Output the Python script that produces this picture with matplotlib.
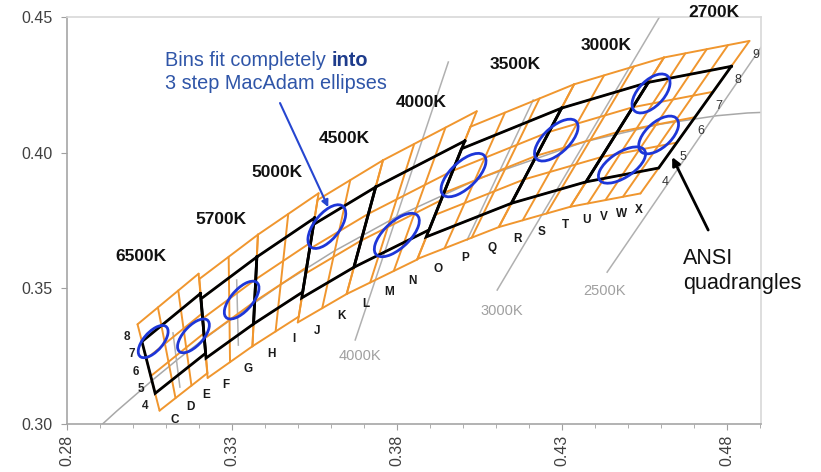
import numpy as np
import matplotlib
matplotlib.use('Agg')
import matplotlib.pyplot as plt
from matplotlib.patches import Ellipse
from matplotlib.ticker import MultipleLocator, FormatStrFormatter

plt.rcParams['font.family'] = ['Liberation Sans', 'DejaVu Sans']

# ---------------- data ----------------
# ANSI C78.377 quadrangles, corners ordered TR, TL, BL, BR
cct_names = ['6500K', '5700K', '5000K', '4500K', '4000K', '3500K', '3000K', '2700K']
quad_x = [
    [0.3205, 0.3028, 0.3068, 0.3221],
    [0.3376, 0.3207, 0.3222, 0.3366],
    [0.3551, 0.3376, 0.3366, 0.3515],
    [0.3736, 0.3548, 0.3512, 0.3670],
    [0.4006, 0.3736, 0.3670, 0.3898],
    [0.4299, 0.3996, 0.3889, 0.4147],
    [0.4562, 0.4299, 0.4147, 0.4373],
    [0.4813, 0.4562, 0.4373, 0.4593],
]
quad_y = [
    [0.3481, 0.3304, 0.3113, 0.3261],
    [0.3616, 0.3462, 0.3243, 0.3369],
    [0.3760, 0.3616, 0.3369, 0.3487],
    [0.3874, 0.3736, 0.3465, 0.3578],
    [0.4044, 0.3874, 0.3578, 0.3716],
    [0.4165, 0.4015, 0.3690, 0.3814],
    [0.4260, 0.4165, 0.3814, 0.3893],
    [0.4319, 0.4260, 0.3893, 0.3944],
]
# bin structure inside each quadrangle (plus one extra row above and below)
bin_cols = [3, 2, 2, 2, 3, 3, 3, 4]
bin_rows_per_quad = [3, 3, 3, 3, 3, 4, 4, 4]
bin_letters = list('CDEFGHIJKLMNOPQRSTUVWX')
left_row_labels = ['4', '5', '6', '7', '8']
right_row_labels = ['4', '5', '6', '7', '8', '9']

# Planckian locus (CIE 1931 x, y)
locus_T = [10000, 9000, 8000, 7000, 6500, 6000, 5500, 5000, 4500, 4000, 3500, 3000, 2700, 2500, 2400, 2300]
locus_x = [0.2807, 0.2869, 0.2952, 0.3064, 0.3135, 0.3221, 0.3325, 0.3451, 0.3608, 0.3805,
           0.4053, 0.4369, 0.4599, 0.4770, 0.4862, 0.4961]
locus_y = [0.2884, 0.2956, 0.3048, 0.3166, 0.3237, 0.3318, 0.3409, 0.3516, 0.3636, 0.3768,
           0.3907, 0.4041, 0.4106, 0.4137, 0.4147, 0.4152]

# isotherm lines (start x, start y, end x, end y) and labels
iso_labels = ['4000K', '3000K', '2500K', '', '', '']
iso_x0 = [0.3674, 0.4104, 0.4437, 0.4013, 0.3143, 0.3320]
iso_y0 = [0.3310, 0.3494, 0.3560, 0.3679, 0.3136, 0.3291]
iso_x1 = [0.3956, 0.4595, 0.4910, 0.4213, 0.3122, 0.3315]
iso_y1 = [0.4335, 0.4500, 0.4401, 0.4195, 0.3336, 0.3531]

# 3-step MacAdam ellipses: centre, semi-axes, angle (deg)
ell_x = [0.3062, 0.3184, 0.3330, 0.3588, 0.3800, 0.4002, 0.4283, 0.4570, 0.4593, 0.4482]
ell_y = [0.3304, 0.3325, 0.3457, 0.3728, 0.3697, 0.3918, 0.4047, 0.4219, 0.4066, 0.3955]
ell_a = [0.0068, 0.0072, 0.0080, 0.0090, 0.0096, 0.0096, 0.0092, 0.0082, 0.0082, 0.0088]
ell_b = [0.0031, 0.0032, 0.0035, 0.0041, 0.0043, 0.0043, 0.0043, 0.0042, 0.0042, 0.0043]
ell_ang = [57, 56, 57, 60, 52, 52, 52, 56, 52, 42]

# ---------------- figure ----------------
ORANGE = '#F0962E'
fig = plt.figure(figsize=(8.21, 4.72), dpi=100)
ax = fig.add_axes([0.0812, 0.1017, 0.8453, 0.8617])
ax.set_xlim(0.28, 0.4902)
ax.set_ylim(0.30, 0.45)

# Planckian locus
ax.plot(locus_x, locus_y, color='#A8A8A8', lw=1.1, zorder=1)

# isotherms
for lab, x0, y0, x1, y1 in zip(iso_labels, iso_x0, iso_y0, iso_x1, iso_y1):
    ax.plot([x0, x1], [y0, y1], color='#B0B0B0', lw=1.1, zorder=1.5)

iso_text_pos = [(0.36868, 0.32508), (0.41170, 0.34168), (0.44305, 0.34905)]
for lab, (tx, ty) in zip(iso_labels[:3], iso_text_pos):
    ax.text(tx, ty, lab, color='#A0A0A0', fontsize=10.5, ha='center', va='center')

# orange bin grids and black quadrangles
letter_idx = 0
for g in range(len(cct_names)):
    TR = np.array([quad_x[g][0], quad_y[g][0]])
    TL = np.array([quad_x[g][1], quad_y[g][1]])
    BL = np.array([quad_x[g][2], quad_y[g][2]])
    BR = np.array([quad_x[g][3], quad_y[g][3]])
    n = bin_rows_per_quad[g]
    e = 1.0 / n
    Pl = lambda t: BL + t * (TL - BL)
    Pr = lambda t: BR + t * (TR - BR)
    # row lines
    for k in range(n + 3):
        t = -e + k * e
        a, b = Pl(t), Pr(t)
        ax.plot([a[0], b[0]], [a[1], b[1]], color=ORANGE, lw=1.4, zorder=2,
                solid_capstyle='round')
    # column lines
    bl, br = Pl(-e), Pr(-e)
    tl, tr = Pl(1 + e), Pr(1 + e)
    nc = bin_cols[g]
    for j in range(nc + 1):
        s = j / nc
        p0 = bl + s * (br - bl)
        p1 = tl + s * (tr - tl)
        ax.plot([p0[0], p1[0]], [p0[1], p1[1]], color=ORANGE, lw=1.4, zorder=2,
                solid_capstyle='round')
    # letters below columns
    for j in range(nc):
        s = (j + 0.5) / nc
        p = bl + s * (br - bl)
        ax.annotate(bin_letters[letter_idx], xy=(p[0], p[1]), xytext=(5, -11),
                    textcoords='offset points', ha='center', va='center',
                    fontsize=8.5, fontweight='bold', color='#1A1A1A', zorder=6)
        letter_idx += 1
    # row labels
    if g == 0:
        for k, lab in enumerate(left_row_labels):
            t = -e + (k + 0.5) * e
            p = Pl(t)
            ax.annotate(lab, xy=(p[0], p[1]), xytext=(-9, -3), textcoords='offset points',
                        ha='center', va='center', fontsize=8.5, fontweight='bold',
                        color='#222222', zorder=6)
    if g == len(cct_names) - 1:
        for k, lab in enumerate(right_row_labels):
            t = -e + (k + 0.5) * e
            p = Pr(t)
            ax.annotate(lab, xy=(p[0], p[1]), xytext=(11, -1), textcoords='offset points',
                        ha='center', va='center', fontsize=9, color='#333333', zorder=6)
    # black ANSI quadrangle
    qx = quad_x[g] + [quad_x[g][0]]
    qy = quad_y[g] + [quad_y[g][0]]
    ax.plot(qx, qy, color='black', lw=2.0, zorder=3, solid_joinstyle='miter')

# MacAdam ellipses
for cx, cy, a, b, ang in zip(ell_x, ell_y, ell_a, ell_b, ell_ang):
    ax.add_patch(Ellipse((cx, cy), 2 * a, 2 * b, angle=ang, fill=False,
                         edgecolor='#1D36D8', lw=2.0, zorder=4))

# CCT labels
cct_text_pos = [(0.30251, 0.36178), (0.32674, 0.37524), (0.34370, 0.39257), (0.36399, 0.40511),
                (0.38731, 0.41839), (0.41578, 0.43241), (0.44335, 0.43941), (0.47606, 0.45159)]
for name, (tx, ty) in zip(cct_names, cct_text_pos):
    ax.text(tx, ty, name, fontsize=12.5, fontweight='bold', ha='center', va='center',
            color='#111111', zorder=6, clip_on=False)

# annotation: MacAdam ellipses
t1 = ax.text(0.30977, 0.43201, 'Bins fit completely ', fontsize=14.3, color='#2F55A8',
             ha='left', va='baseline', zorder=6)
ax.annotate('into', xy=(1, 0), xycoords=t1, ha='left', va='bottom', fontsize=14.3,
            fontweight='bold', color='#1E3C8C', zorder=6)
ax.text(0.30977, 0.42353, '3 step MacAdam ellipses', fontsize=14.3, color='#2F55A8',
        ha='left', va='baseline', zorder=6)
ax.annotate('', xy=(0.35922, 0.37998), xytext=(0.34462, 0.41837),
            arrowprops=dict(arrowstyle='-|>', color='#2646D0', lw=1.5,
                            mutation_scale=10, shrinkA=0, shrinkB=0), zorder=6)

# annotation: ANSI quadrangles
ax.text(0.46667, 0.3590, 'ANSI', fontsize=15.5, color='#111111',
        ha='left', va='baseline', zorder=6, clip_on=False)
ax.text(0.46667, 0.3498, 'quadrangles', fontsize=15.5, color='#111111',
        ha='left', va='baseline', zorder=6, clip_on=False)
ax.annotate('', xy=(0.46341, 0.39845), xytext=(0.47431, 0.37153),
            arrowprops=dict(arrowstyle='-|>', color='black', lw=2.0,
                            mutation_scale=12, shrinkA=0, shrinkB=0), zorder=6)

# axes styling
ax.set_xticks([0.28, 0.33, 0.38, 0.43, 0.48])
ax.xaxis.set_minor_locator(MultipleLocator(0.01))
ax.set_yticks([0.30, 0.35, 0.40, 0.45])
ax.xaxis.set_major_formatter(FormatStrFormatter('%.2f'))
ax.yaxis.set_major_formatter(FormatStrFormatter('%.2f'))
ax.tick_params(axis='x', which='major', direction='out', length=4, color='#A0A0A0',
               labelsize=11.5, labelcolor='#404040', labelrotation=90, pad=4)
ax.tick_params(axis='x', which='minor', direction='out', length=3, color='#A0A0A0')
ax.tick_params(axis='y', which='major', direction='out', length=4, color='#A0A0A0',
               labelsize=11.5, labelcolor='#404040', pad=6)
for side in ['left', 'bottom']:
    ax.spines[side].set_color('#A6A6A6')
    ax.spines[side].set_linewidth(1.2)
for side in ['top', 'right']:
    ax.spines[side].set_color('#D8D8D8')
    ax.spines[side].set_linewidth(1.2)

fig.savefig('out.png', dpi=100)
